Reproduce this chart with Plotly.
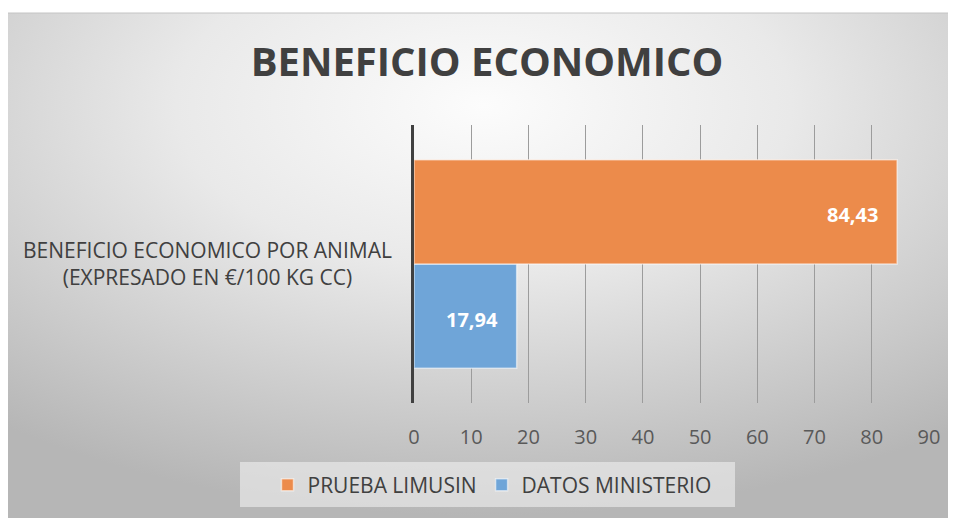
import base64
import plotly.graph_objects as go

# data
category = ["BENEFICIO ECONOMICO POR ANIMAL<br>(EXPRESADO EN €/100 KG CC)"]
series_names = ["DATOS MINISTERIO", "PRUEBA LIMUSIN"]
series_values = [[17.94], [84.43]]
series_colors = ["#6FA5D8", "#EC8B4B"]
x_ticks = [0, 10, 20, 30, 40, 50, 60, 70, 80, 90]

# the page puts the figure 8px in from the corner
OFF = 8
W, H = 956 - OFF, 518 - OFF
L, R, T, B = 414 - OFF, 27, 125 - OFF, 115
pw, ph = W - L - R, H - T - B


def px_x(p):
    # page pixel -> paper x
    return (p - OFF - L) / pw


def px_y(p):
    # page pixel -> paper y
    return (H - B - (p - OFF)) / ph


# radial grey background as svg gradient
svg = """<svg xmlns="http://www.w3.org/2000/svg" width="953" height="505" viewBox="0 0 953 505" preserveAspectRatio="none">
<defs><radialGradient id="g" cx="50%" cy="18%" r="80%">
<stop offset="0" stop-color="#fcfcfc"/><stop offset="0.4" stop-color="#e9e9e9"/>
<stop offset="1" stop-color="#b6b6b6"/></radialGradient></defs>
<rect width="953" height="505" fill="url(#g)"/></svg>"""
bg_src = "data:image/svg+xml;base64," + base64.b64encode(svg.encode()).decode()

fig = go.Figure()
for name, vals, col in zip(series_names, series_values, series_colors):
    fig.add_trace(go.Bar(
        y=["cat"], x=vals, name=name, orientation="h",
        marker=dict(color=col, line=dict(color="rgba(255,255,255,0.55)", width=1.5)),
        hoverinfo="skip",
    ))

annotations = []
for i, vals in enumerate(series_values):
    off = -0.1875 if i == 0 else 0.1875
    annotations.append(dict(
        x=vals[0], y=off, xref="x", yref="y", text=f"{vals[0]:.2f}".replace(".", ","),
        showarrow=False, xanchor="right", yanchor="middle", xshift=-17, yshift=-3,
        font=dict(family="Open Sans", size=20, color="white", weight="bold"),
    ))

annotations.append(dict(
    x=px_x(394), y=px_y(263), xref="paper", yref="paper", text=category[0],
    showarrow=False, xanchor="right", yanchor="middle", align="center",
    font=dict(family="Open Sans", size=21, color="#404040"),
))

fig.update_layout(
    width=W, height=H,
    margin=dict(l=L, r=R, t=T, b=B, pad=0),
    paper_bgcolor="white", plot_bgcolor="rgba(0,0,0,0)",
    barmode="group", bargap=0.25, bargroupgap=0,
    title=dict(text="<b>BENEFICIO ECONOMICO</b>", x=(487 - OFF) / W, xanchor="center",
               y=1 - (62 - OFF) / H, yanchor="middle",
               font=dict(family="Open Sans", size=40, color="#404040")),
    xaxis=dict(range=[0, 90], tickvals=x_ticks, showgrid=True, gridcolor="#9c9c9c",
               gridwidth=1, zeroline=False, showline=False, ticks="outside",
               ticklen=16, tickcolor="rgba(0,0,0,0)",
               tickfont=dict(family="Open Sans", size=20, color="#595959")),
    yaxis=dict(showticklabels=False, showgrid=False, zeroline=False,
               showline=True, linecolor="#404040", linewidth=3, range=[-0.5, 0.5]),
    legend=dict(orientation="h", x=px_x(492), xanchor="center", y=px_y(485),
                yanchor="middle", traceorder="reversed", bgcolor="rgba(0,0,0,0)",
                font=dict(family="Open Sans", size=21, color="#404040"),
                itemwidth=30),
    images=[dict(source=bg_src, xref="paper", yref="paper", x=px_x(3), y=px_y(13),
                 sizex=px_x(964) - px_x(3), sizey=px_y(13) - px_y(526),
                 xanchor="left", yanchor="top", sizing="stretch", layer="below")],
    shapes=[
        dict(type="rect", xref="paper", yref="paper", x0=px_x(240), x1=px_x(735),
             y0=px_y(507), y1=px_y(462), fillcolor="rgba(240,240,240,0.6)",
             line=dict(width=0), layer="below"),
        dict(type="line", xref="paper", yref="paper", x0=px_x(3), x1=px_x(964),
             y0=px_y(13), y1=px_y(13), line=dict(color="#c4c4c4", width=1)),
    ],
    annotations=annotations,
    showlegend=True,
)

fig.write_html("out.html")
